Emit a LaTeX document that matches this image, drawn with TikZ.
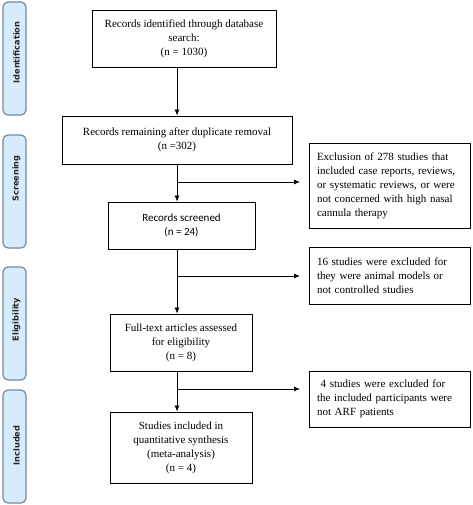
\documentclass[tikz,border=0pt]{standalone}
\usepackage{fontspec}
\setmainfont{Liberation Serif}
\newfontfamily\labfont{Carlito}
\newfontfamily\sidefont{DejaVu Sans}
\usetikzlibrary{arrows.meta}
\definecolor{sidefill}{HTML}{D6ECFA}
\definecolor{sidedraw}{HTML}{6F8CA6}
\tikzset{
  box/.style={draw, line width=0.9pt, align=center, inner sep=2pt, font=\fontsize{11}{14}\selectfont},
  rbox/.style={draw, line width=0.9pt, align=left, inner sep=0pt, font=\fontsize{11}{14}\selectfont, text width=145pt},
  sbox/.style={draw, line width=0.9pt, align=center, inner sep=2pt, font=\labfont\fontsize{11}{14}\selectfont},
  side/.style={draw=sidedraw, fill=sidefill, line width=1.2pt, rounded corners=5pt, minimum width=23pt, inner sep=0pt},
  sidetext/.style={rotate=90, font=\sidefont\bfseries\fontsize{8.2}{10}\selectfont, text=black!85},
  arr/.style={line width=0.8pt, -{Latex[length=6pt,width=5pt]}},
  ln/.style={line width=0.8pt}
}
\begin{document}
\begin{tikzpicture}[x=1pt,y=-1pt]
\useasboundingbox (0,0) rectangle (472,505);
% side labels
\node[side, minimum height=113pt] (s1) at (14.5,58.5) {};
\node[sidetext] at ([xshift=2pt,yshift=6pt]s1.center) {Identification};
\node[side, minimum height=113pt] (s2) at (14.5,191.5) {};
\node[sidetext] at ([xshift=2pt,yshift=13pt]s2.center) {Screening};
\node[side, minimum height=113pt] (s3) at (14.5,323.5) {};
\node[sidetext] at ([xshift=2pt,yshift=4pt]s3.center) {Eligibility};
\node[side, minimum height=113pt] (s4) at (14.5,446.5) {};
\node[sidetext] at ([xshift=2pt,yshift=1pt]s4.center) {Included};
% main boxes
\node[box, minimum width=184pt, minimum height=57pt] (b1) at (184,38.5) {Records identified through database\\search:\\(n = 1030)};
\node[box, minimum width=230pt, minimum height=48pt] (b2) at (177,140) {Records remaining after duplicate removal\\(n =302)};
\node[sbox, minimum width=147pt, minimum height=47pt] (b3) at (181.5,225.5) {Records screened\\(n = 24)};
\node[box, minimum width=142pt, minimum height=57pt] (b4) at (181,342.5) {Full-text articles assessed\\for eligibility\\(n = 8)};
\node[box, minimum width=142pt, minimum height=71pt] (b5) at (181,447.5) {Studies included in\\quantitative synthesis\\(meta-analysis)\\(n = 4)};
% right boxes
\node[rbox, minimum width=161pt, minimum height=85pt] (e1) at (389.5,185.5) {Exclusion of 278 studies that\\included case reports, reviews,\\or systematic reviews, or were\\not concerned with high nasal\\cannula therapy};
\node[rbox, minimum width=161pt, minimum height=57pt] (e2) at (389.5,275.5) {16 studies were excluded for\\they were animal models or\\not controlled studies};
\node[rbox, minimum width=161pt, minimum height=56pt] (e3) at (389.5,399) {\ 4 studies were excluded for\\the included participants were\\not ARF patients};
% spine
\coordinate (sp) at (177,0);
\coordinate (j1) at (177,182);
\coordinate (j2) at (177,276);
\coordinate (j3) at (177,389);
\coordinate (t1) at (300,182);
\coordinate (t2) at (300,276);
\coordinate (t3) at (300,389);
\draw[arr] (b1.south -| sp) -- (b2.north -| sp);
\draw[arr] (b2.south -| sp) -- (b3.north -| sp);
\draw[arr] (b3.south -| sp) -- (b4.north -| sp);
\draw[arr] (b4.south -| sp) -- (b5.north -| sp);
\draw[arr] (j1) -- (t1);
\draw[arr] (j2) -- (t2);
\draw[arr] (j3) -- (t3);
\end{tikzpicture}
\end{document}
